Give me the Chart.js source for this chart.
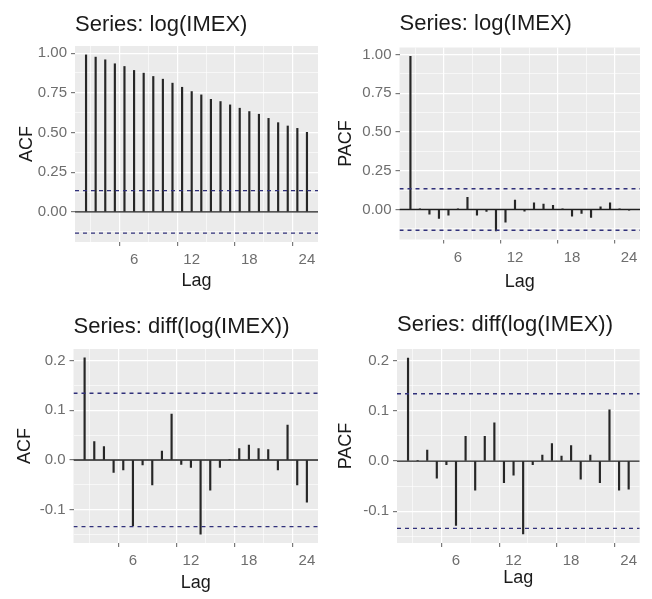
<!DOCTYPE html>
<html>
<head>
<meta charset="utf-8">
<title>ACF / PACF - IMEX</title>
<script src="https://cdn.jsdelivr.net/npm/chart.js@4.4.1/dist/chart.umd.min.js"></script>
<style>
  body { margin: 0; background: #fff; }
  #wrap { position: relative; width: 652px; height: 599px; }
  canvas { position: absolute; }
</style>
</head>
<body>
<div id="wrap">
  <canvas id="acfLog" width="326" height="300" style="left:0;top:0"></canvas>
  <canvas id="pacfLog" width="326" height="300" style="left:326px;top:0"></canvas>
  <canvas id="acfDiff" width="326" height="299" style="left:0;top:300px"></canvas>
  <canvas id="pacfDiff" width="326" height="299" style="left:326px;top:300px"></canvas>
</div>
<script>
// --- Data ---
const lags = [1, 2, 3, 4, 5, 6, 7, 8, 9, 10, 11, 12, 13, 14, 15, 16, 17, 18, 19, 20, 21, 22, 23, 24];

const acfLogValues = [0.989, 0.975, 0.958, 0.933, 0.916, 0.891, 0.874, 0.853, 0.836, 0.811, 0.785, 0.758,
                      0.737, 0.709, 0.695, 0.674, 0.653, 0.632, 0.615, 0.589, 0.562, 0.541, 0.526, 0.501];
const pacfLogValues = [0.989, 0.001, -0.030, -0.058, -0.037, 0.002, 0.078, -0.037, -0.013, -0.138, -0.082, 0.060,
                       -0.011, 0.043, 0.035, 0.026, 0.003, -0.043, -0.026, -0.052, 0.017, 0.043, 0.002, -0.003];
const acfDiffValues = [0.205, 0.037, 0.027, -0.025, -0.020, -0.132, -0.010, -0.050, 0.018, 0.092, -0.009, -0.015,
                       -0.149, -0.061, -0.015, 0.001, 0.023, 0.030, 0.023, 0.021, -0.020, 0.070, -0.050, -0.085];
const pacfDiffValues = [0.205, 0.001, 0.022, -0.034, -0.007, -0.128, 0.049, -0.058, 0.049, 0.076, -0.043, -0.028,
                        -0.145, -0.007, 0.012, 0.035, 0.010, 0.031, -0.036, 0.012, -0.043, 0.102, -0.058, -0.056];

// 95% bounds (dashed lines)
const ciBounds = [-0.134, 0.134];

// --- Ticks ---
const lagTicks = [6, 12, 18, 24];
const lagLabels = ['6', '12', '18', '24'];
const lagMinor = [0, 3, 9, 15, 21];
const yTicksLog = [0, 0.25, 0.5, 0.75, 1];
const yLabelsLog = ['0.00', '0.25', '0.50', '0.75', '1.00'];
const yMinorLog = [-0.125, 0.125, 0.375, 0.625, 0.875];
const yTicksDiff = [-0.1, 0, 0.1, 0.2];
const yLabelsDiff = ['-0.1', '0.0', '0.1', '0.2'];
const yMinorDiff = [-0.15, -0.05, 0.05, 0.15];

const FONT = "'Liberation Sans', Arial, sans-serif";
const X_MIN = -0.15, X_MAX = 25.15;

// grey panel background like ggplot's theme_grey
const panelBg = {
    id: 'panelBg',
    beforeDraw(chart) {
        const a = chart.chartArea;
        const ctx = chart.ctx;
        ctx.save();
        ctx.fillStyle = '#ebebeb';
        ctx.fillRect(a.left, a.top, a.right - a.left, a.bottom - a.top);
        ctx.restore();
    }
};

function isMajor(list, v) {
    return list.some(m => Math.abs(m - v) < 1e-9);
}

function makeAxisTicks(major, minor) {
    return major.concat(minor).sort((a, b) => a - b);
}

function hline(y, dashed, order) {
    return {
        type: 'line',
        data: [{x: X_MIN, y: y}, {x: X_MAX, y: y}],
        borderColor: dashed ? '#30307a' : '#1e1e1e',
        borderWidth: 1.4,
        borderDash: dashed ? [4, 4] : [],
        pointRadius: 0,
        fill: false,
        order: order
    };
}

function makePanel(id, p) {
    const canvas = document.getElementById(id);
    const W = canvas.width, H = canvas.height;
    const yAll = makeAxisTicks(p.yTicks, p.yMinor);
    const xAll = makeAxisTicks(lagTicks, lagMinor);

    const gridOpts = (major) => ({
        color: '#ffffff',
        lineWidth: ctx => (ctx.tick && isMajor(major, ctx.tick.value)) ? 1.2 : 0.6,
        tickColor: ctx => (ctx.tick && isMajor(major, ctx.tick.value)) ? '#7a7a7a' : 'rgba(0,0,0,0)',
        tickLength: 4,
        drawOnChartArea: true
    });

    return new Chart(canvas.getContext('2d'), {
        type: 'bar',
        data: {
            datasets: [
                hline(0, false, 3),
                {
                    type: 'bar',
                    data: lags.map((l, i) => ({x: l, y: p.values[i]})),
                    backgroundColor: '#262626',
                    borderWidth: 0,
                    barThickness: 1.5,
                    order: 2
                },
                hline(ciBounds[1], true, 1),
                hline(ciBounds[0], true, 1)
            ]
        },
        options: {
            responsive: false,
            animation: false,
            layout: { padding: { left: 0, right: W - p.area.r, top: 0, bottom: 0 } },
            plugins: {
                legend: { display: false },
                tooltip: { enabled: false },
                title: {
                    display: true,
                    text: p.title,
                    align: 'start',
                    fullSize: false,
                    color: '#1a1a1a',
                    font: { family: FONT, size: 22, weight: 'normal', lineHeight: 1.2 },
                    padding: { top: p.titleMid - 13.2, bottom: p.area.t - (p.titleMid - 13.2) - 26.4 }
                }
            },
            scales: {
                x: {
                    type: 'linear',
                    min: X_MIN,
                    max: X_MAX,
                    offset: false,
                    border: { display: false },
                    grid: gridOpts(lagTicks),
                    afterBuildTicks: axis => { axis.ticks = xAll.map(v => ({value: v})); },
                    afterFit: axis => { axis.height = H - p.area.b; },
                    ticks: {
                        autoSkip: false,
                        maxRotation: 0,
                        padding: 5,
                        color: '#6e6e6e',
                        font: { family: FONT, size: 15 },
                        callback: v => isMajor(lagTicks, v) ? lagLabels[lagTicks.findIndex(m => Math.abs(m - v) < 1e-9)] : ''
                    },
                    title: {
                        display: true,
                        text: 'Lag',
                        color: '#1a1a1a',
                        font: { family: FONT, size: 18, lineHeight: 1.2 },
                        padding: { top: 0, bottom: H - p.lagY - 10.8 }
                    }
                },
                y: {
                    type: 'linear',
                    min: p.yMin,
                    max: p.yMax,
                    border: { display: false },
                    grid: gridOpts(p.yTicks),
                    afterBuildTicks: axis => { axis.ticks = yAll.map(v => ({value: v})); },
                    afterFit: axis => { axis.width = p.area.l; },
                    ticks: {
                        autoSkip: false,
                        padding: 4,
                        color: '#6e6e6e',
                        font: { family: FONT, size: 15 },
                        callback: v => isMajor(p.yTicks, v) ? p.yLabels[p.yTicks.findIndex(m => Math.abs(m - v) < 1e-9)] : ''
                    },
                    title: {
                        display: true,
                        text: p.yTitle,
                        color: '#1a1a1a',
                        font: { family: FONT, size: 18, lineHeight: 1.2 },
                        padding: { top: p.yTitleX - 10.8, bottom: 0 }
                    }
                }
            }
        },
        plugins: [panelBg]
    });
}

makePanel('acfLog', {
    title: 'Series: log(IMEX)', yTitle: 'ACF', values: acfLogValues,
    yMin: -0.19, yMax: 1.045, yTicks: yTicksLog, yLabels: yLabelsLog, yMinor: yMinorLog,
    area: { l: 75, r: 318, t: 46, b: 242 }, titleMid: 24.5, yTitleX: 26.7, lagY: 281
});
makePanel('pacfLog', {
    title: 'Series: log(IMEX)', yTitle: 'PACF', values: pacfLogValues,
    yMin: -0.194, yMax: 1.046, yTicks: yTicksLog, yLabels: yLabelsLog, yMinor: yMinorLog,
    area: { l: 73.5, r: 314, t: 47.5, b: 239.5 }, titleMid: 24, yTitleX: 19.7, lagY: 282
});
makePanel('acfDiff', {
    title: 'Series: diff(log(IMEX))', yTitle: 'ACF', values: acfDiffValues,
    yMin: -0.167, yMax: 0.223, yTicks: yTicksDiff, yLabels: yLabelsDiff, yMinor: yMinorDiff,
    area: { l: 73.5, r: 318, t: 49, b: 243 }, titleMid: 27, yTitleX: 25, lagY: 283
});
makePanel('pacfDiff', {
    title: 'Series: diff(log(IMEX))', yTitle: 'PACF', values: pacfDiffValues,
    yMin: -0.163, yMax: 0.223, yTicks: yTicksDiff, yLabels: yLabelsDiff, yMinor: yMinorDiff,
    area: { l: 71, r: 313.7, t: 49, b: 243 }, titleMid: 25, yTitleX: 19.7, lagY: 278.5
});
</script>
</body>
</html>
